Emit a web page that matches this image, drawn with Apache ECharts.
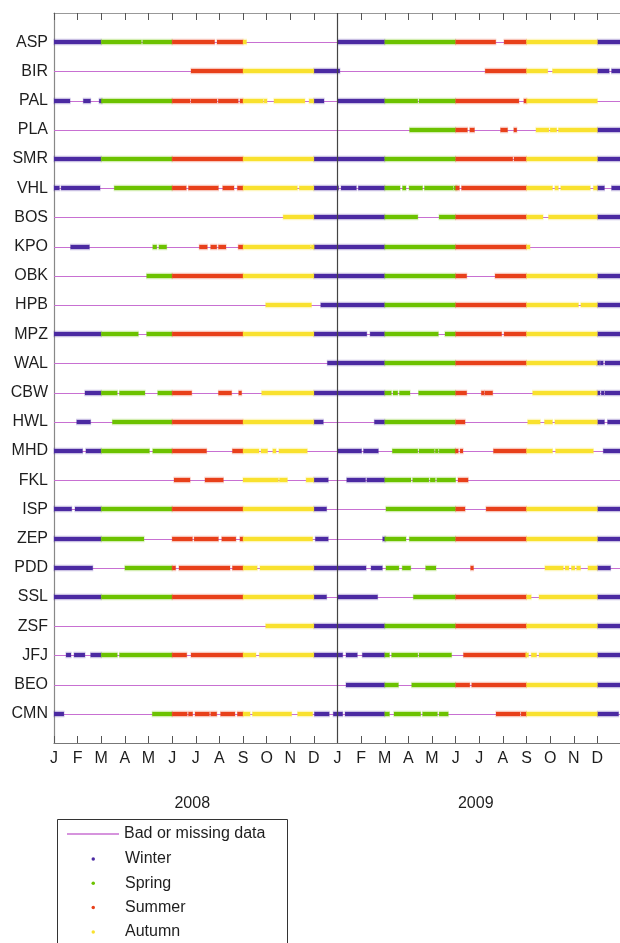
<!DOCTYPE html>
<html>
<head>
<meta charset="utf-8">
<script src="https://cdn.jsdelivr.net/npm/echarts@6/dist/echarts.min.js"></script>
<style>
html,body{margin:0;padding:0;background:#fff;}
#chart{width:620px;height:943px;}
</style>
</head>
<body>
<div id="chart"></div>
<script>
// ---------- DATA ----------
const stations = ['ASP','BIR','PAL','PLA','SMR','VHL','BOS','KPO','OBK','HPB','MPZ','WAL',
                  'CBW','HWL','MHD','FKL','ISP','ZEP','PDD','SSL','ZSF','JFJ','BEO','CMN'];
const monthLabels = ['J','F','M','A','M','J','J','A','S','O','N','D',
                     'J','F','M','A','M','J','J','A','S','O','N','D'];
const yearLabels = ['2008','2009'];
const seasons = ['Winter','Spring','Summer','Autumn'];
const missingName = 'Bad or missing data';
// valid-data intervals, in months since 1 Jan 2008 (0 .. 24)
const ASP = [[0,3.7],[3.75,6.8],[6.9,8.15],[12,18.7],[19.05,24]];
const BIR = [[5.8,12.1],[18.25,20.9],[21.1,23.5],[23.6,24]];
const PAL = [[0,0.68],[1.24,1.55],[1.95,5.76],[5.8,6.9],[6.95,7.8],[7.87,8.86],[8.93,8.98],[9.31,10.62],[10.8,11.43],[12,15.4],[15.45,19.68],[19.9,23]];
const PLA = [[15.05,17.5],[17.6,17.8],[18.9,19.2],[19.47,19.58],[20.4,20.95],[21.0,21.28],[21.35,24]];
const SMR = [[0,19.42],[19.47,24]];
const VHL = [[0,0.23],[0.3,1.95],[2.55,5.6],[5.69,6.96],[7.14,7.62],[7.76,10.3],[10.38,12.05],[12.15,12.8],[12.88,14.65],[14.75,14.9],[15.03,15.6],[15.68,16.9],[16.99,17.16],[17.25,21.1],[21.2,21.35],[21.45,22.7],[22.83,23.3],[23.6,24]];
const BOS = [[9.7,15.4],[16.3,20.7],[20.93,24]];
const KPO = [[0.7,1.5],[4.18,4.35],[4.44,4.77],[6.15,6.49],[6.63,6.89],[6.96,7.28],[7.8,10.86],[10.9,20.15]];
const OBK = [[3.92,17.47],[18.67,24]];
const HPB = [[8.96,10.9],[11.29,22.2],[22.3,24]];
const MPZ = [[0,3.57],[3.92,13.24],[13.38,16.27],[16.55,18.95],[19.05,24]];
const WAL = [[11.57,23.07],[23.15,23.22],[23.32,24]];
const CBW = [[1.31,2.68],[2.77,3.85],[4.39,5.83],[6.96,7.52],[7.83,7.93],[8.79,14.28],[14.35,14.55],[14.62,15.07],[15.43,17.47],[18.1,18.2],[18.24,18.57],[20.26,23.1],[23.2,23.25],[23.32,24]];
const HWL = [[0.96,1.55],[2.47,11.4],[13.56,17.4],[20.05,20.58],[20.76,21.1],[21.2,23.3],[23.43,24]];
const MHD = [[0,1.21],[1.35,4.04],[4.18,6.46],[7.55,8.68],[8.76,9.04],[9.26,9.4],[9.52,10.72],[12,13.02],[13.1,13.73],[14.32,15.4],[15.45,16.1],[16.17,16.23],[16.3,17.1],[17.2,17.3],[18.6,21.1],[21.23,22.83],[23.25,24]];
const FKL = [[5.08,5.76],[6.39,7.17],[8,9.5],[9.54,9.88],[10.67,11.61],[12.39,13.19],[13.24,15.11],[15.18,15.87],[15.92,16.14],[16.2,17.0],[17.1,17.53]];
const ISP = [[0,0.75],[0.89,11.54],[14.05,17.4],[18.29,24]];
const ZEP = [[0,3.81],[5,5.86],[5.93,6.96],[7.1,7.7],[7.87,10.95],[11.06,11.61],[13.95,14.9],[15.04,24]];
const PDD = [[0,1.64],[3.0,5.15],[5.29,7.45],[7.55,8.6],[8.72,13.21],[13.42,13.9],[14.05,14.6],[14.74,15.1],[15.73,16.17],[17.64,17.75],[20.78,21.56],[21.63,21.8],[21.9,22.05],[22.12,22.29],[22.6,23.56]];
const SSL = [[0,11.54],[12,13.7],[15.21,20.2],[20.53,24]];
const ZSF = [[8.96,24]];
const JFJ = [[0.51,0.72],[0.85,1.31],[1.55,2.68],[2.77,5.62],[5.8,8.55],[8.69,12.22],[12.36,12.84],[13.05,14.2],[14.29,15.4],[15.45,16.83],[17.33,20.05],[20.2,20.43],[20.53,24]];
const BEO = [[12.36,14.58],[15.14,17.6],[17.68,24]];
const CMN = [[0,0.42],[4.16,5.64],[5.69,5.87],[5.97,6.58],[6.63,6.89],[7.05,7.66],[7.76,8.3],[8.4,10.06],[10.31,10.95],[11.02,11.65],[11.82,12.22],[12.32,14.2],[14.39,15.52],[15.6,16.23],[16.3,16.69],[18.71,19.73],[19.77,23.9]];
const validData = [ASP,BIR,PAL,PLA,SMR,VHL,BOS,KPO,OBK,HPB,MPZ,WAL,CBW,HWL,MHD,FKL,ISP,ZEP,PDD,SSL,ZSF,JFJ,BEO,CMN];
const xMin = 0, xMax = 24, yearBoundary = 12;

// ---------- STYLE ----------
const FONT = '"Liberation Sans", Arial, sans-serif';
const seasonColors = ['#4b2aa2','#6cc200','#e8401a','#f9e12e'];
const missingColor = '#c870d2';
const n = stations.length;

function seasonOf(m) {
  const k = ((Math.floor(m) % 12) + 12) % 12;
  if (k === 11 || k < 2) return 0;
  if (k < 5) return 1;
  if (k < 8) return 2;
  return 3;
}
const seasonData = [[],[],[],[]];
validData.forEach((ivs, i) => {
  const y = n - i;
  ivs.forEach(([a, b]) => {
    const cuts = [a];
    for (let c = Math.ceil(a); c <= Math.floor(b); c++) {
      if (c > a && c < b && c % 3 === 2) cuts.push(c);
    }
    cuts.push(b);
    for (let j = 0; j < cuts.length - 1; j++) {
      const s = cuts[j], e = cuts[j + 1];
      seasonData[seasonOf((s + e) / 2)].push([s, e, y]);
    }
  });
});

function segRender(color) {
  return function (params, api) {
    const p1 = api.coord([api.value(0), api.value(2)]);
    const p2 = api.coord([api.value(1), api.value(2)]);
    let x1 = p1[0], x2 = p2[0];
    if (x2 - x1 < 3) { const c = (x1 + x2) / 2; x1 = c - 1.5; x2 = c + 1.5; }
    const y = Math.round(p1[1]);
    return {
      type: 'group',
      children: [
        { type: 'line', shape: { x1: x1 - 0.5, y1: y, x2: x2 + 0.5, y2: y },
          style: { stroke: color, lineWidth: 6.5, opacity: 0.3 } },
        { type: 'line', shape: { x1: x1, y1: y, x2: x2, y2: y },
          style: { stroke: color, lineWidth: 4 } }
      ]
    };
  };
}

const series = [];
series.push({
  name: missingName,
  type: 'custom',
  xAxisIndex: 0, yAxisIndex: 0,
  itemStyle: { color: missingColor },
  data: stations.map((s, i) => [xMin, xMax, n - i]),
  encode: { x: [0, 1], y: 2 },
  renderItem: function (params, api) {
    const p1 = api.coord([api.value(0), api.value(2)]);
    const p2 = api.coord([api.value(1), api.value(2)]);
    const y = Math.round(p1[1]) + 0.5;
    return { type: 'line', shape: { x1: p1[0], y1: y, x2: p2[0], y2: y },
             style: { stroke: missingColor, lineWidth: 1.2 } };
  },
  z: 2
});
seasons.forEach((name, k) => {
  series.push({
    name: name,
    type: 'custom',
    xAxisIndex: 0, yAxisIndex: 0,
    itemStyle: { color: seasonColors[k] },
    data: seasonData[k],
    encode: { x: [0, 1], y: 2 },
    renderItem: segRender(seasonColors[k]),
    z: 3
  });
});
series.push({
  name: 'yearline',
  type: 'line',
  xAxisIndex: 0, yAxisIndex: 0,
  data: [[yearBoundary, 0], [yearBoundary, n + 1]],
  symbol: 'none',
  silent: true,
  lineStyle: { color: '#444', width: 1.2 },
  z: 4
});

const labelStyle = { fontFamily: FONT, fontSize: 16, color: '#1e1e1e' };

const option = {
  animation: false,
  backgroundColor: '#fff',
  grid: { left: 54, top: 13, width: 567, height: 730, containLabel: false, outerBoundsMode: 'none' },
  xAxis: [
    {
      type: 'value', position: 'bottom', min: xMin, max: xMax, interval: 1,
      axisLine: { show: true, lineStyle: { color: '#777', width: 1.2 } },
      axisTick: { show: true, inside: true, length: 7, lineStyle: { color: '#555' } },
      splitLine: { show: false },
      axisLabel: Object.assign({ margin: 8, formatter: v => monthLabels[v] || '' }, labelStyle)
    },
    {
      type: 'value', position: 'top', min: xMin, max: xMax, interval: 1,
      axisLine: { show: true, lineStyle: { color: '#999', width: 1.2 } },
      axisTick: { show: true, inside: true, length: 7, lineStyle: { color: '#555' } },
      splitLine: { show: false },
      axisLabel: { show: false }
    },
    {
      type: 'value', position: 'bottom', offset: 45, min: xMin, max: xMax, interval: 6,
      axisLine: { show: false }, axisTick: { show: false }, splitLine: { show: false },
      axisLabel: Object.assign({ margin: 8, padding: [0, 7, 0, 0],
        formatter: v => (v === 6 ? yearLabels[0] : v === 18 ? yearLabels[1] : '') }, labelStyle)
    }
  ],
  yAxis: [{
    type: 'value', min: 0, max: n + 1, interval: 1,
    axisLine: { show: true, lineStyle: { color: '#888', width: 1.2 } },
    axisTick: { show: false },
    splitLine: { show: false },
    axisLabel: Object.assign({ margin: 6, formatter: v => (v >= 1 && v <= n ? stations[n - v] : '') }, labelStyle)
  }],
  legend: [
    {
      data: [missingName], orient: 'vertical', left: 67, top: 824, padding: 0,
      icon: 'rect', itemWidth: 52, itemHeight: 1.4, selectedMode: false,
      textStyle: Object.assign({ lineHeight: 20 }, labelStyle)
    },
    {
      data: seasons, orient: 'vertical', left: 91.5, top: 849, padding: 0,
      icon: 'circle', itemWidth: 3.5, itemHeight: 3.5, itemGap: 4.3, selectedMode: false,
      textStyle: Object.assign({ lineHeight: 20, padding: [0, 0, 0, 25] }, labelStyle)
    }
  ],
  graphic: [{
    type: 'rect', left: 55, top: 817, silent: true,
    shape: { width: 230, height: 200 },
    style: { fill: 'none', stroke: '#333', lineWidth: 1 }
  }],
  series: series
};

const chart = echarts.init(document.getElementById('chart'), null, { renderer: 'canvas' });
chart.setOption(option);
</script>
</body>
</html>
